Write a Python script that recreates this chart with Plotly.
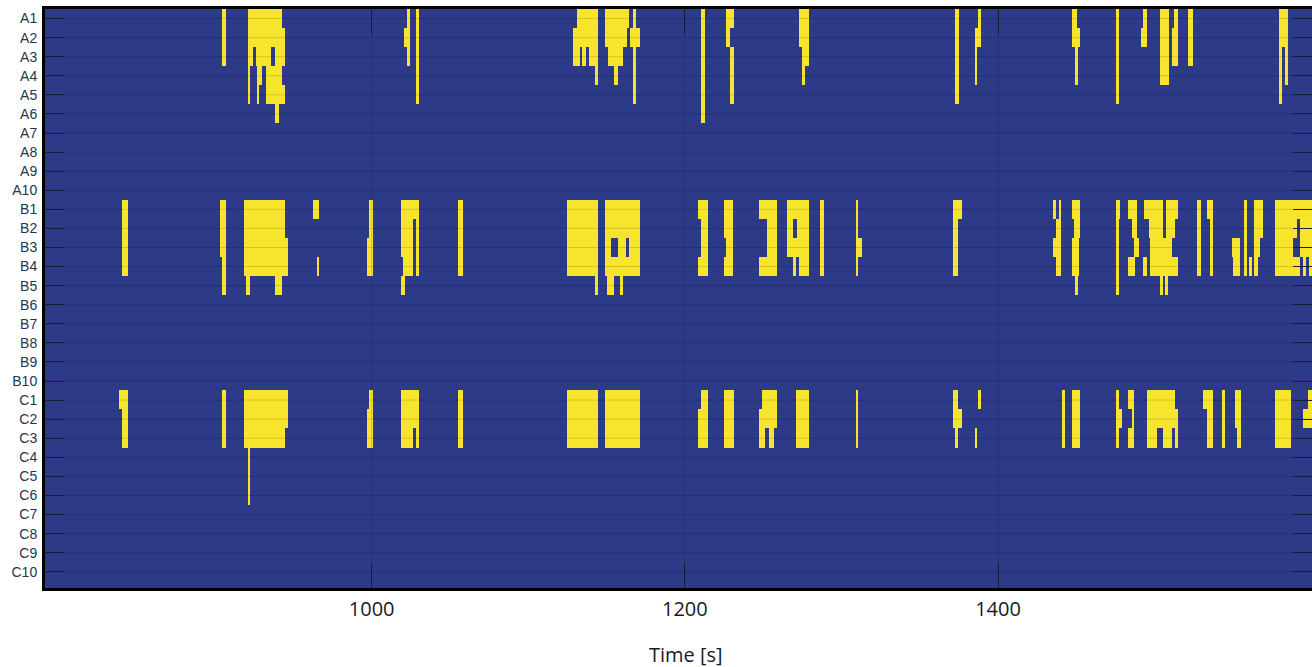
import numpy as np
import plotly.graph_objects as go

# ---------------- data ----------------
row_labels = [f"A{i}" for i in range(1, 11)] + [f"B{i}" for i in range(1, 11)] + [f"C{i}" for i in range(1, 11)]

x_ticks = [1000, 1200, 1400]
x_range = [791.4, 1600.5]

# active intervals (start s, end s) per channel
A1 = [(904.4, 906.8), (920.8, 942.5), (1022.7, 1024.5), (1028.5, 1030.4), (1130.9, 1144.7),
      (1149.0, 1164.5), (1167.0, 1168.8), (1210.7, 1212.8), (1226.7, 1230.9), (1273.1, 1278.8),
      (1372.7, 1374.8), (1387.0, 1388.9), (1447.0, 1450.6), (1474.8, 1477.0), (1492.7, 1494.9),
      (1502.9, 1509.1), (1512.5, 1515.1), (1521.1, 1524.6), (1578.9, 1584.9)]
A2 = [(904.4, 906.8), (920.8, 944.6), (1020.6, 1024.5), (1028.5, 1030.4), (1128.7, 1144.7),
      (1149.0, 1163.0), (1164.9, 1170.9), (1210.7, 1212.8), (1226.7, 1229.2), (1273.1, 1278.8),
      (1372.7, 1374.8), (1384.8, 1388.9), (1447.0, 1452.7), (1474.8, 1477.0), (1491.1, 1494.9),
      (1502.9, 1509.1), (1510.9, 1515.1), (1521.1, 1524.6), (1578.9, 1584.9)]
A3 = [(904.4, 906.8), (920.8, 924.4), (925.9, 936.1), (938.3, 944.6), (1022.7, 1024.5),
      (1028.5, 1030.4), (1128.7, 1133.0), (1134.7, 1136.8), (1139.0, 1144.7), (1151.1, 1160.7),
      (1167.0, 1168.8), (1210.7, 1212.8), (1228.8, 1230.9), (1274.6, 1278.8), (1372.7, 1374.8),
      (1384.8, 1386.7), (1449.1, 1451.0), (1474.8, 1477.0), (1502.9, 1509.1), (1510.9, 1515.1),
      (1521.1, 1524.6), (1578.9, 1581.1), (1582.8, 1584.9)]
A4 = [(920.8, 922.7), (926.6, 930.1), (932.3, 943.2), (1028.5, 1030.4), (1142.6, 1144.7),
      (1154.9, 1156.8), (1167.0, 1168.8), (1210.7, 1212.8), (1228.8, 1230.9), (1274.6, 1276.7),
      (1372.7, 1374.8), (1384.8, 1386.7), (1449.1, 1451.0), (1474.8, 1477.0), (1502.9, 1509.1),
      (1578.9, 1581.1), (1582.8, 1584.9)]
A5 = [(920.8, 922.7), (926.6, 928.2), (932.3, 944.6), (1028.5, 1030.4), (1167.0, 1168.8),
      (1210.7, 1212.8), (1228.8, 1230.9), (1372.7, 1374.8), (1474.8, 1477.0), (1578.9, 1581.1)]
A6 = [(938.7, 940.6), (1210.7, 1212.8)]
A7, A8, A9, A10 = [], [], [], []

B1 = [(840.7, 844.6), (903.1, 906.8), (918.5, 944.6), (962.7, 966.5), (998.5, 1001.0),
      (1018.7, 1030.4), (1054.9, 1058.7), (1124.9, 1144.7), (1149.0, 1170.9), (1208.6, 1214.9),
      (1225.0, 1230.5), (1246.9, 1258.6), (1265.0, 1278.8), (1286.7, 1288.8), (1309.1, 1310.7),
      (1371.0, 1376.8), (1435.2, 1437.2), (1438.3, 1440.0), (1447.0, 1452.7), (1474.8, 1477.8),
      (1483.1, 1488.5), (1493.2, 1505.1), (1507.2, 1515.1), (1527.2, 1529.4), (1533.2, 1537.0),
      (1557.0, 1559.1), (1563.0, 1569.0), (1576.8, 1600.4)]
B2 = [(840.7, 844.6), (903.1, 906.8), (918.5, 944.6), (998.5, 1001.0), (1018.7, 1026.6),
      (1028.3, 1030.4), (1054.9, 1058.7), (1124.9, 1144.7), (1149.0, 1170.9), (1210.1, 1214.9),
      (1225.0, 1230.5), (1252.6, 1258.6), (1265.0, 1269.2), (1271.4, 1278.8), (1286.7, 1288.8),
      (1309.1, 1310.7), (1371.0, 1374.6), (1436.8, 1440.0), (1448.5, 1452.7), (1474.8, 1477.0),
      (1485.3, 1488.5), (1495.9, 1505.1), (1507.2, 1513.0), (1527.2, 1529.4), (1534.9, 1537.0),
      (1557.0, 1559.1), (1563.0, 1569.0), (1576.8, 1590.7), (1592.8, 1600.4)]
B3 = [(840.7, 844.6), (903.1, 906.8), (918.5, 946.7), (996.8, 1001.0), (1018.7, 1026.6),
      (1028.3, 1030.4), (1054.9, 1058.7), (1124.9, 1144.7), (1149.0, 1152.6), (1156.8, 1162.4),
      (1164.5, 1170.9), (1210.1, 1214.9), (1226.7, 1230.5), (1252.6, 1258.6), (1265.0, 1278.8),
      (1286.7, 1288.8), (1309.1, 1312.9), (1371.0, 1374.6), (1434.9, 1440.0), (1447.0, 1451.5),
      (1474.8, 1477.0), (1486.8, 1490.2), (1497.0, 1510.9), (1527.2, 1529.4), (1534.9, 1537.0),
      (1549.2, 1554.5), (1557.0, 1559.1), (1563.0, 1566.8), (1576.8, 1588.5), (1592.8, 1600.4)]
B4 = [(840.7, 844.6), (904.6, 906.8), (918.5, 946.7), (964.9, 966.5), (996.8, 1001.0),
      (1020.2, 1026.6), (1028.3, 1030.4), (1054.9, 1058.7), (1124.9, 1144.7), (1149.0, 1170.9),
      (1208.6, 1214.9), (1225.0, 1230.5), (1246.9, 1258.6), (1268.8, 1270.9), (1272.4, 1278.8),
      (1286.7, 1288.8), (1309.1, 1310.7), (1371.0, 1374.6), (1436.8, 1440.0), (1447.0, 1451.5),
      (1474.8, 1477.0), (1483.1, 1487.4), (1492.7, 1494.9), (1497.0, 1515.1), (1527.2, 1529.4),
      (1534.9, 1537.0), (1550.2, 1554.5), (1557.0, 1559.1), (1559.8, 1561.9), (1563.6, 1565.8),
      (1576.8, 1592.8), (1594.7, 1596.6), (1598.5, 1600.4)]
B5 = [(904.6, 906.8), (920.2, 922.7), (938.7, 942.5), (1018.7, 1020.8), (1142.6, 1144.7),
      (1150.7, 1154.9), (1158.6, 1160.7), (1449.1, 1451.2), (1474.8, 1477.0), (1502.9, 1505.1),
      (1506.6, 1508.7)]
B6, B7, B8, B9, B10 = [], [], [], [], []

C1 = [(838.6, 844.6), (904.6, 906.8), (918.5, 946.7), (998.5, 1000.6), (1018.7, 1030.4),
      (1054.9, 1058.7), (1124.9, 1144.7), (1149.0, 1170.9), (1210.7, 1214.9), (1225.0, 1230.9),
      (1249.0, 1258.6), (1270.9, 1278.8), (1309.1, 1310.7), (1371.0, 1374.6), (1387.0, 1388.9),
      (1440.6, 1442.7), (1447.0, 1452.7), (1474.8, 1477.0), (1483.1, 1486.8), (1494.9, 1513.0),
      (1531.0, 1537.0), (1543.2, 1545.1), (1551.3, 1554.9), (1576.8, 1586.8), (1598.0, 1600.4)]
C2 = [(840.7, 844.6), (904.6, 906.8), (918.5, 946.7), (996.8, 1000.6), (1018.7, 1030.4),
      (1054.9, 1058.7), (1124.9, 1144.7), (1149.0, 1170.9), (1208.6, 1214.9), (1225.0, 1230.9),
      (1246.9, 1258.6), (1270.9, 1278.8), (1309.1, 1310.7), (1371.0, 1376.8), (1440.6, 1442.7),
      (1447.0, 1452.7), (1474.8, 1478.9), (1485.3, 1486.8), (1494.9, 1515.1), (1533.2, 1537.0),
      (1543.2, 1545.1), (1551.3, 1554.9), (1576.8, 1586.8), (1594.7, 1600.4)]
C3 = [(840.7, 844.6), (904.6, 906.8), (918.5, 944.6), (996.8, 1000.6), (1018.7, 1026.6),
      (1028.3, 1030.4), (1054.9, 1058.7), (1124.9, 1144.7), (1149.0, 1170.9), (1208.6, 1214.9),
      (1225.0, 1230.9), (1246.9, 1251.1), (1253.3, 1256.9), (1270.9, 1278.8), (1309.1, 1310.7),
      (1372.7, 1374.6), (1384.8, 1386.7), (1440.6, 1442.7), (1447.0, 1452.7), (1474.8, 1477.0),
      (1483.1, 1486.8), (1494.9, 1501.3), (1505.1, 1510.9), (1513.0, 1515.1), (1533.2, 1537.0),
      (1543.2, 1545.1), (1552.7, 1554.9), (1576.8, 1586.8)]
C4 = [(920.8, 922.7)]
C5 = [(920.8, 922.7)]
C6 = [(920.8, 922.7)]
C7, C8, C9, C10 = [], [], [], []

row_intervals = [A1, A2, A3, A4, A5, A6, A7, A8, A9, A10,
                 B1, B2, B3, B4, B5, B6, B7, B8, B9, B10,
                 C1, C2, C3, C4, C5, C6, C7, C8, C9, C10]

# ---------------- build grid ----------------
BLUE = "#2c3a88"
YELLOW = "#f6e52c"

dt = 0.5
t_centers = np.arange(790.0 + dt / 2, 1601.5, dt)
z = np.zeros((len(row_labels), len(t_centers)), dtype=int)
for i, ivs in enumerate(row_intervals):
    for s, e in ivs:
        z[i, (t_centers >= s) & (t_centers <= e)] = 1

rows_idx = list(range(len(row_labels)))

fig = go.Figure()
fig.add_trace(go.Heatmap(
    z=z, x=t_centers, y=rows_idx,
    colorscale=[[0, BLUE], [1, YELLOW]], zmin=0, zmax=1,
    showscale=False, hoverinfo="skip", zsmooth=False,
))
# empty trace to activate the right-hand tick axis
fig.add_trace(go.Scatter(x=[], y=[], yaxis="y2", showlegend=False))

y_range = [len(row_labels) - 0.15, -0.5]

shapes = []
for i in rows_idx:
    shapes.append(dict(type="line", xref="paper", x0=0, x1=1, yref="y", y0=i, y1=i,
                       line=dict(color="rgba(0,0,0,0.14)", width=1), layer="above"))
for t in x_ticks:
    shapes.append(dict(type="line", xref="x", x0=t, x1=t, yref="paper", y0=0, y1=1,
                       line=dict(color="rgba(0,0,0,0.14)", width=1), layer="above"))

fig.update_layout(
    width=1312, height=667,
    margin=dict(l=45, r=0, t=9, b=79, autoexpand=False),
    paper_bgcolor="white", plot_bgcolor=BLUE,
    showlegend=False,
    shapes=shapes,
    xaxis=dict(range=x_range, tickvals=x_ticks, ticks="inside", ticklen=25, tickwidth=1,
               tickcolor="#1c2140", showline=True, linecolor="black", linewidth=3,
               mirror="ticks", showgrid=False, zeroline=False, automargin=False,
               tickfont=dict(family="Open Sans", size=20, color="#1a1a1a"),
               ticklabelstandoff=1),
    yaxis=dict(range=y_range, tickvals=rows_idx, ticktext=row_labels, ticks="inside",
               ticklen=19, tickwidth=1, tickcolor="#1c2140", showline=True,
               linecolor="black", linewidth=3, mirror=False, showgrid=False, zeroline=False,
               automargin=False, ticklabelstandoff=2,
               tickfont=dict(family="Liberation Sans", size=14, color="#27354d")),
    yaxis2=dict(range=y_range, overlaying="y", side="right", tickvals=rows_idx,
                showticklabels=False, ticks="inside", ticklen=19, tickwidth=1,
                tickcolor="#1c2140", showline=False, showgrid=False, zeroline=False,
                automargin=False),
    annotations=[dict(text="Time [s]", xref="paper", yref="paper", x=0.506, y=-0.114,
                      xanchor="center", yanchor="middle", showarrow=False,
                      font=dict(family="Open Sans", size=20, color="#1a1a1a"))],
)

fig.write_html(
    "out.html",
    config={"displayModeBar": False},
    post_script="document.body.style.margin='0';document.body.style.overflow='hidden';",
)
